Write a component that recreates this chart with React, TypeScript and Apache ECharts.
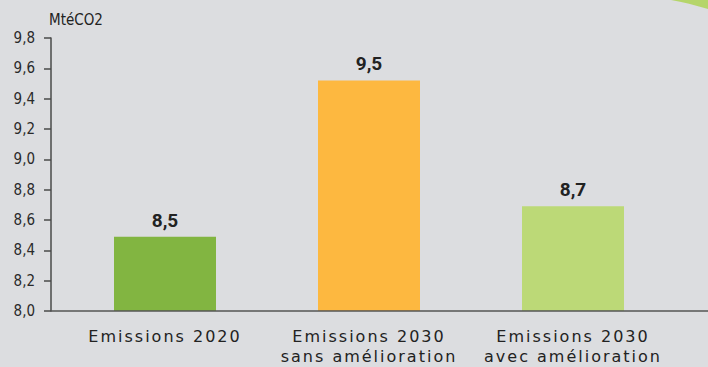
import React, { useEffect, useRef } from "react";
import * as echarts from "echarts";

const categories = [
  "Emissions 2020",
  "Emissions 2030\nsans amélioration",
  "Emissions 2030\navec amélioration",
];
const values = [8.49, 9.52, 8.69];
const barColors = ["#82b541", "#fdb840", "#bcd977"];
const axisName = "MtéCO2";
const yMin = 8.0;
const yMax = 9.8;
const yStep = 0.2;

const fmt = (v: number) => v.toFixed(1).replace(".", ",");

export default function App() {
  const ref = useRef<HTMLDivElement>(null);
  useEffect(() => {
    if (!ref.current) return;
    const chart = echarts.init(ref.current, undefined, { renderer: "svg" });
    chart.setOption({
      animation: false,
      backgroundColor: "#dcdde0",
      grid: { left: 63, right: 33, top: 38, bottom: 56 },
      xAxis: {
        type: "category",
        data: categories,
        axisLine: { show: false },
        axisTick: { show: false },
        axisLabel: {
          color: "#222",
          fontSize: 16,
          lineHeight: 20,
          margin: 15,
          fontFamily: "'DejaVu Sans', xlbl",
          interval: 0,
        },
      },
      yAxis: {
        type: "value",
        min: yMin,
        max: yMax,
        interval: yStep,
        offset: 12,
        name: axisName,
        nameLocation: "end",
        nameGap: 18,
        nameTextStyle: {
          color: "#222",
          fontSize: 15,
          fontFamily: "'DejaVu Sans Condensed'",
          align: "left",
          verticalAlign: "middle",
          padding: [0, 0, 0, -2],
        },
        splitLine: { show: false },
        axisLine: { show: true, lineStyle: { color: "#4a4a4a", width: 1.5 } },
        axisTick: { show: true, length: 7, lineStyle: { color: "#4a4a4a", width: 1.5 } },
        axisLabel: {
          color: "#2a2a2a",
          fontSize: 15,
          margin: 16,
          fontFamily: "'DejaVu Sans Condensed'",
          formatter: (v: number) => fmt(v),
        },
      },
      series: [
        {
          type: "bar",
          barWidth: 102,
          data: values.map((v, i) => ({ value: v, itemStyle: { color: barColors[i] } })),
          label: {
            show: true,
            position: "top",
            distance: 7,
            color: "#222",
            fontSize: 19,
            fontWeight: "bold",
            fontFamily: "Roboto",
            formatter: (p: any) => fmt(p.value),
          },
        },
      ],
      graphic: [
        {
          type: "line",
          shape: { x1: 51, y1: 311, x2: 708, y2: 311 },
          style: { stroke: "#555", lineWidth: 1.5 },
          z: 10,
        },
        {
          type: "polygon",
          shape: {
            points: [
              [671, 0],
              [708, 0],
              [708, 9],
              [699, 6.5],
              [689, 3.8],
              [680, 1.7],
            ],
          },
          style: { fill: "#b5d56a" },
        },
      ],
    });
    return () => chart.dispose();
  }, []);
  return (
    <>
      <style>{`body{margin:0} text[style*="xlbl"]{letter-spacing:2px}`}</style>
      <div ref={ref} style={{ width: 708, height: 367, position: "fixed", left: 0, top: 0 }} />
    </>
  );
}
